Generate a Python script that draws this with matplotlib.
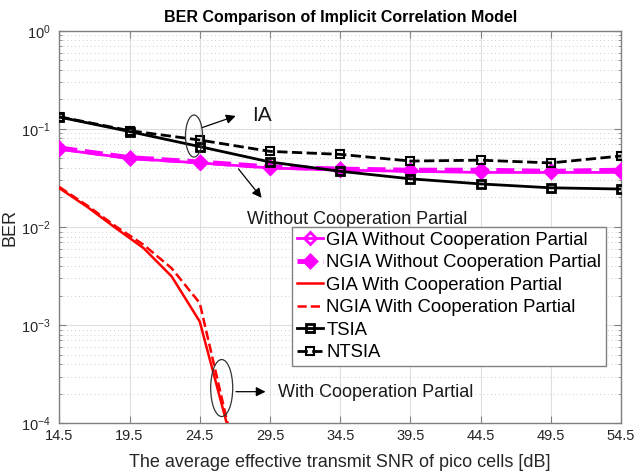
import matplotlib
matplotlib.use("Agg")
import matplotlib.pyplot as plt
from matplotlib.patches import Ellipse
import numpy as np

plt.rcParams['font.family'] = ['Liberation Sans', 'DejaVu Sans']

# ---- data ----
snr = [14.5, 19.5, 24.5, 29.5, 34.5, 39.5, 44.5, 49.5, 54.5]
gia_without = [0.062, 0.050, 0.045, 0.040, 0.038, 0.037, 0.036, 0.036, 0.036]
ngia_without = [0.064, 0.051, 0.046, 0.041, 0.039, 0.038, 0.038, 0.037, 0.038]
tsia = [0.132, 0.094, 0.066, 0.046, 0.037, 0.031, 0.0275, 0.0251, 0.0244]
ntsia = [0.133, 0.096, 0.077, 0.059, 0.055, 0.047, 0.048, 0.045, 0.053]

snr_coop = [14.5, 16.5, 18.5, 20.5, 22.5, 24.5, 26.5]
gia_with = [0.0249, 0.0160, 0.0098, 0.0061, 0.00314, 0.00109, 0.000091]
ngia_with = [0.0256, 0.0165, 0.0102, 0.0066, 0.0038, 0.00168, 0.000098]

xticks = [14.5, 19.5, 24.5, 29.5, 34.5, 39.5, 44.5, 49.5, 54.5]
labels = ['GIA Without Cooperation Partial', 'NGIA Without Cooperation Partial',
          'GIA With Cooperation Partial', 'NGIA With Cooperation Partial',
          'TSIA', 'NTSIA']

fig = plt.figure(figsize=(6.35, 4.73), dpi=100)
ax = fig.add_axes([0.0934, 0.105, 0.8846, 0.830])

ax.semilogy(snr, gia_without, '-', color='magenta', lw=2, marker='D', ms=6.5,
            mfc='none', mew=2, label=labels[0], zorder=4)
ax.semilogy(snr, ngia_without, '--', color='magenta', lw=3.5, marker='D', ms=6,
            mfc='magenta', mew=2.5, label=labels[1], zorder=4)
ax.semilogy(snr_coop, gia_with, '-', color='red', lw=1.8, label=labels[2], zorder=3)
ax.semilogy(snr_coop, ngia_with, '--', color='red', lw=1.8, label=labels[3], zorder=3)
ax.semilogy(snr, tsia, '-', color='black', lw=2, marker='s', ms=6,
            mfc='none', mew=2, label=labels[4], zorder=5)
ax.semilogy(snr, ntsia, '--', color='black', lw=2, marker='s', ms=6,
            mfc='none', mew=1.5, label=labels[5], zorder=5)

ax.set_xlim(14.5, 54.5)
ax.set_ylim(1e-4, 1)
ax.set_xticks(xticks)
ax.set_xticklabels([f'{v:.1f}' for v in xticks])

spine_c = '#808080'
for s in ax.spines.values():
    s.set_color(spine_c)
    s.set_linewidth(1.0)
ax.tick_params(which='both', direction='in', top=True, right=True,
               colors=spine_c, labelcolor='#262626', labelsize=10.5)
ax.tick_params(which='major', length=5)
ax.tick_params(which='minor', length=2.5)
ax.tick_params(axis='y', which='both', pad=6)
ax.tick_params(axis='x', which='both', pad=4)
ax.xaxis.set_minor_locator(matplotlib.ticker.NullLocator())

ax.grid(True, which='major', color='#dedede', lw=0.8, ls='-')
ax.grid(True, which='minor', axis='y', color='#cfcfcf', lw=0.7, ls=(0, (1, 3)))
ax.set_axisbelow(True)

ax.set_title('BER Comparison of Implicit Correlation Model', fontsize=11.5,
             fontweight='bold', color='black', pad=6)
ax.set_xlabel('The average effective transmit SNR of pico cells [dB]',
              fontsize=13, color='#262626', labelpad=8)
ax.set_ylabel('BER', fontsize=13, color='#262626', labelpad=2)

leg = ax.legend(loc='upper left', bbox_to_anchor=(0.4144, 0.4997), fontsize=13.3,
                handlelength=1.4, handletextpad=0.2, labelspacing=0.3,
                borderpad=0.25, borderaxespad=0, fancybox=False, framealpha=1,
                edgecolor='#808080')
leg.get_frame().set_linewidth(1.0)

# annotations (axes fraction coords)
tr = ax.transAxes
ax.add_patch(Ellipse((0.2398, 0.7318), 0.0303, 0.107, transform=tr,
                     fill=False, ec='#333333', lw=0.9, zorder=6))
ax.add_patch(Ellipse((0.2891, 0.0899), 0.0392, 0.1452, transform=tr,
                     fill=False, ec='#333333', lw=0.9, zorder=6))
arrow = dict(arrowstyle='-|>', color='black', lw=0.9, mutation_scale=14)
ax.annotate('', xy=(0.3187, 0.7853), xytext=(0.2505, 0.7514), xycoords=tr,
            textcoords=tr, arrowprops=arrow, zorder=6)
ax.text(0.343, 0.7853, 'IA', transform=tr, fontsize=15, ha='left', va='center',
        color='#1a1a1a')
ax.annotate('', xy=(0.3632, 0.5688), xytext=(0.3158, 0.6537), xycoords=tr,
            textcoords=tr, arrowprops=arrow, zorder=6)
ax.text(0.3336, 0.520, 'Without Cooperation Partial', transform=tr, fontsize=13,
        ha='left', va='center', color='#1a1a1a')
ax.annotate('', xy=(0.3721, 0.0806), xytext=(0.3095, 0.0806), xycoords=tr,
            textcoords=tr, arrowprops=arrow, zorder=6)
ax.text(0.3893, 0.0786, 'With Cooperation Partial', transform=tr, fontsize=13,
        ha='left', va='center', color='#1a1a1a')

fig.savefig('out.png', dpi=100)
